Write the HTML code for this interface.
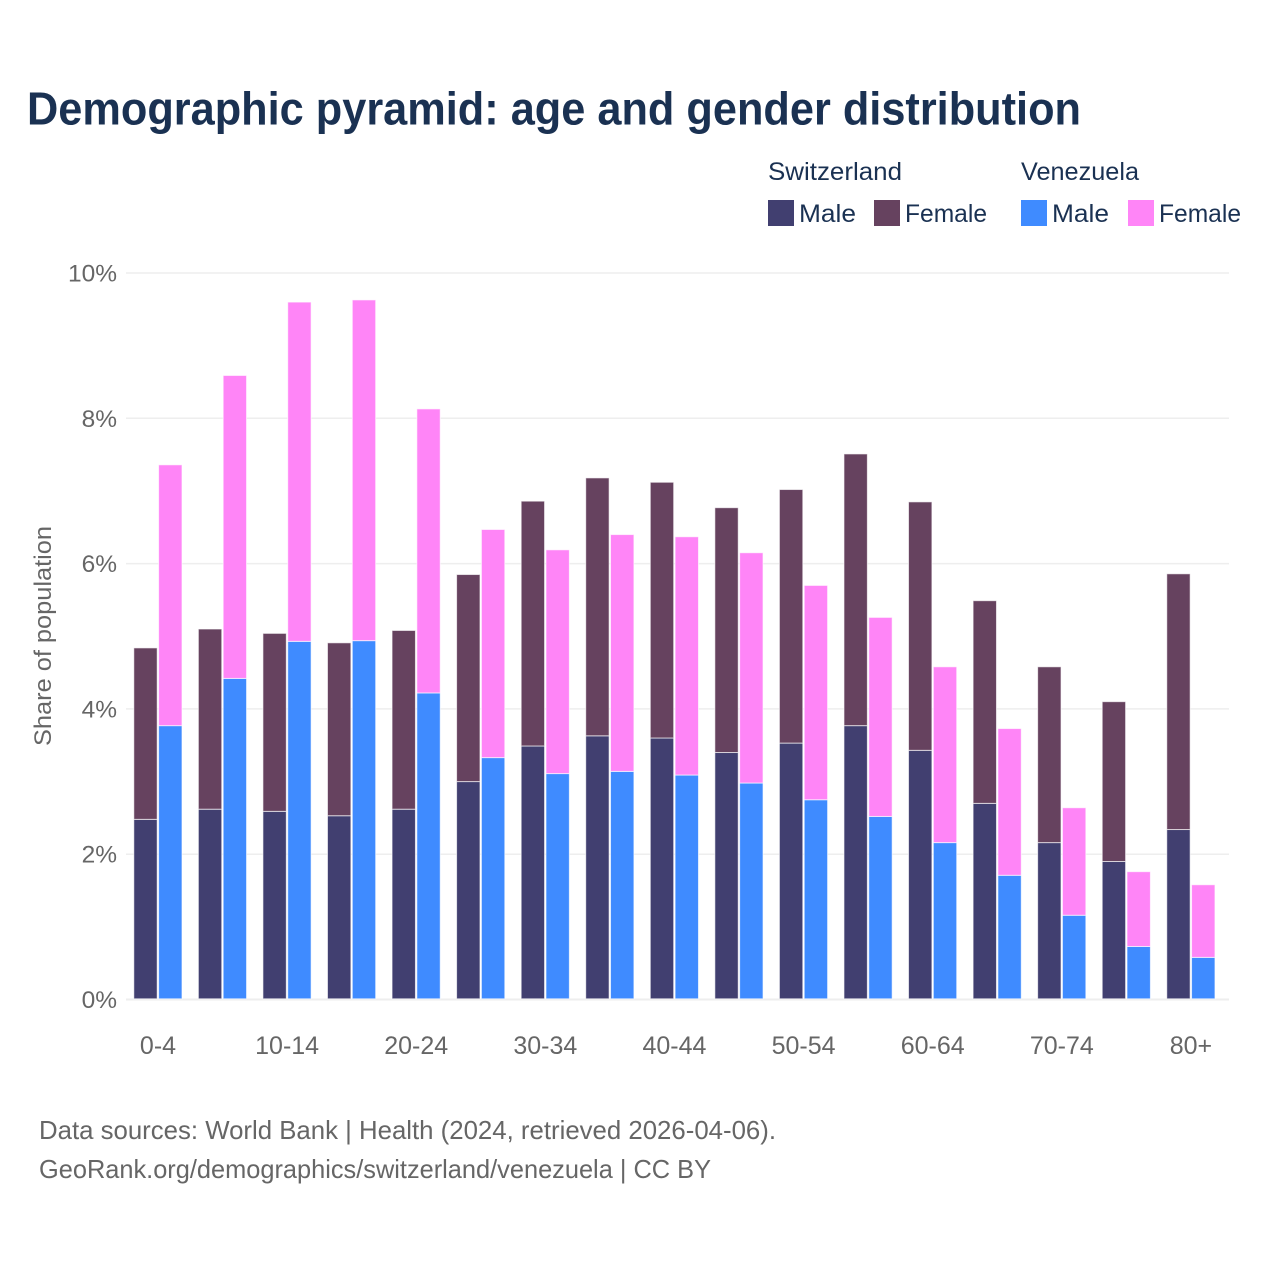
<!DOCTYPE html>
<html lang="en">
<head>
<meta charset="utf-8">
<title>Demographic pyramid: age and gender distribution</title>
<style>
html,body{margin:0;padding:0;background:#fff}
svg{display:block;font-family:"Liberation Sans",sans-serif}
</style>
</head>
<body>
<svg id="chart" xmlns="http://www.w3.org/2000/svg" width="1280" height="1280" viewBox="0 0 1280 1280">
  <rect width="1280" height="1280" fill="#ffffff"/>
  <text x="27" y="124.5" font-size="46" font-weight="700" fill="#1a3152" textLength="1054" lengthAdjust="spacingAndGlyphs">Demographic pyramid: age and gender distribution</text>
  <g font-size="25" fill="#1a3152">
    <text x="768" y="180" textLength="134" lengthAdjust="spacingAndGlyphs">Switzerland</text>
    <text x="1021" y="180" textLength="118" lengthAdjust="spacingAndGlyphs">Venezuela</text>
    <rect x="768" y="200" width="26" height="26" fill="#413f70"/>
    <text x="799" y="222" textLength="57" lengthAdjust="spacingAndGlyphs">Male</text>
    <rect x="874" y="200" width="26" height="26" fill="#66425f"/>
    <text x="905" y="222" textLength="82" lengthAdjust="spacingAndGlyphs">Female</text>
    <rect x="1021" y="200" width="26" height="26" fill="#3f8bff"/>
    <text x="1052" y="222" textLength="57" lengthAdjust="spacingAndGlyphs">Male</text>
    <rect x="1128" y="200" width="26" height="26" fill="#ff85f7"/>
    <text x="1159" y="222" textLength="82" lengthAdjust="spacingAndGlyphs">Female</text>
  </g>
  <g id="grid"></g>
  <g id="bars"></g>
  <g id="yticks" font-size="24.5" fill="#666666" text-anchor="end"></g>
  <g id="xticks" font-size="25" fill="#666666" text-anchor="middle"></g>
  <text transform="translate(51,746) rotate(-90)" font-size="24" fill="#666666" textLength="220" lengthAdjust="spacingAndGlyphs">Share of population</text>
  <text x="39" y="1139" font-size="26" fill="#666666" textLength="737" lengthAdjust="spacingAndGlyphs">Data sources: World Bank | Health (2024, retrieved 2026-04-06).</text>
  <text x="39" y="1178" font-size="26" fill="#666666" textLength="672" lengthAdjust="spacingAndGlyphs">GeoRank.org/demographics/switzerland/venezuela | CC BY</text>
</svg>
<script>
const categories = ['0-4','5-9','10-14','15-19','20-24','25-29','30-34','35-39','40-44','45-49','50-54','55-59','60-64','65-69','70-74','75-79','80+'];
const swissMale = [2.47,2.61,2.58,2.52,2.61,2.99,3.48,3.62,3.59,3.39,3.52,3.76,3.42,2.69,2.15,1.89,2.33];
const swissFemale = [2.36,2.48,2.45,2.38,2.46,2.85,3.37,3.55,3.52,3.37,3.49,3.74,3.42,2.79,2.42,2.20,3.52];
const venezuelaMale = [3.76,4.41,4.92,4.93,4.21,3.32,3.10,3.13,3.08,2.97,2.74,2.51,2.15,1.70,1.15,0.72,0.57];
const venezuelaFemale = [3.59,4.17,4.67,4.69,3.91,3.14,3.08,3.26,3.28,3.17,2.95,2.74,2.42,2.02,1.48,1.03,1.00];
const yTicks = [0,2,4,6,8,10];

const NS = 'http://www.w3.org/2000/svg';
const plotLeft = 126, plotRight = 1229;
const y0 = 999.5, pxPerUnit = 72.65;
const firstCenter = 158, groupStep = 64.56;
const barWidth = 23.4, leftInset = 24.2, rightInset = 0.6, barLift = 0.7;

function yScale(v) { return y0 - v * pxPerUnit; }
function xCenter(i) { return firstCenter + i * groupStep; }

function addRect(parent, x, v0, v1, fill) {
  const r = document.createElementNS(NS, 'rect');
  r.setAttribute('x', x);
  r.setAttribute('y', yScale(v1) - barLift);
  r.setAttribute('width', barWidth);
  r.setAttribute('height', yScale(v0) - yScale(v1));
  r.setAttribute('fill', fill);
  r.setAttribute('stroke', '#ffffff');
  r.setAttribute('stroke-opacity', '0.65');
  r.setAttribute('stroke-width', '1');
  parent.appendChild(r);
  return r;
}

const grid = document.getElementById('grid');
const yTickGroup = document.getElementById('yticks');
yTicks.forEach(function (t) {
  const line = document.createElementNS(NS, 'line');
  
  
  line.setAttribute('x1', plotLeft);
  line.setAttribute('x2', plotRight);
  line.setAttribute('y1', yScale(t));
  line.setAttribute('y2', yScale(t));
  line.setAttribute('stroke', '#eeeeee');
  line.setAttribute('stroke-width', t === 0 ? 2 : 1.5);
  grid.appendChild(line);

  const label = document.createElementNS(NS, 'text');
  
  
  label.setAttribute('x', 117);
  label.setAttribute('y', yScale(t) + 8.5);
  label.textContent = t + '%';
  yTickGroup.appendChild(label);
});

const bars = document.getElementById('bars');
categories.forEach(function (cat, i) {
  const cx = xCenter(i);
  const left = cx - leftInset;
  const right = cx + rightInset;

  const a = addRect(bars, left, 0, swissMale[i], '#413f70');
  
  

  const b = addRect(bars, left, swissMale[i], swissMale[i] + swissFemale[i], '#66425f');
  
  

  const c = addRect(bars, right, 0, venezuelaMale[i], '#3f8bff');
  
  

  const d = addRect(bars, right, venezuelaMale[i], venezuelaMale[i] + venezuelaFemale[i], '#ff85f7');
  
  
});

const xTickGroup = document.getElementById('xticks');
categories.forEach(function (cat, i) {
  if (i % 2 !== 0) return;
  const label = document.createElementNS(NS, 'text');
  
  
  label.setAttribute('x', xCenter(i));
  label.setAttribute('y', 1054);
  label.textContent = cat;
  xTickGroup.appendChild(label);
});
</script>
</body>
</html>
